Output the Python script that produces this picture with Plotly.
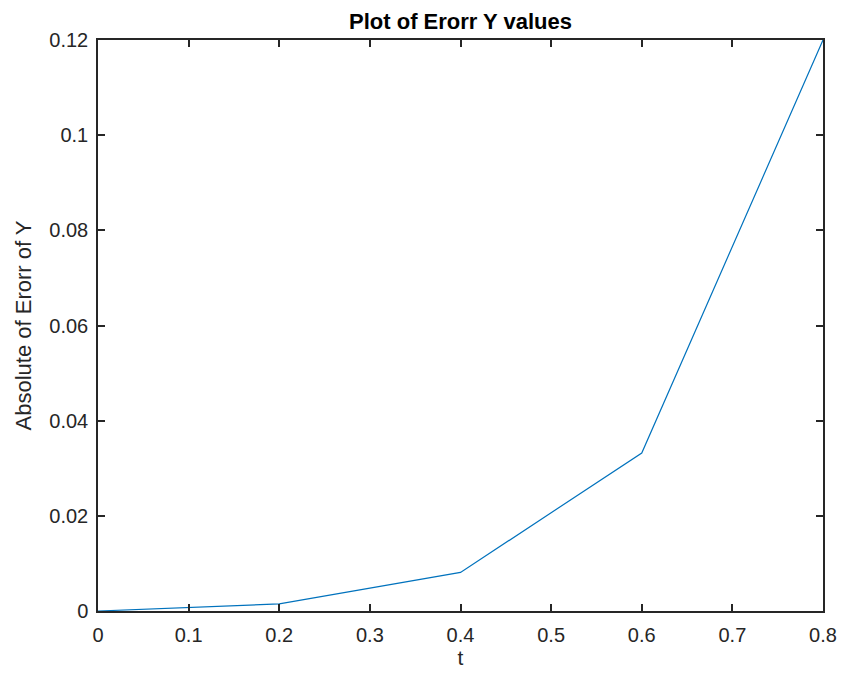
import plotly.graph_objects as go

# Time samples and absolute error in Y
t = [0.0, 0.2, 0.4, 0.6, 0.8]
abs_err_y = [0.0, 0.0015, 0.0081, 0.0332, 0.1200]

x_ticks = [0, 0.1, 0.2, 0.3, 0.4, 0.5, 0.6, 0.7, 0.8]
y_ticks = [0, 0.02, 0.04, 0.06, 0.08, 0.1, 0.12]

FONT = "Arial, Liberation Sans, sans-serif"

fig = go.Figure()
fig.add_trace(go.Scatter(
    x=t, y=abs_err_y, mode="lines",
    line=dict(color="#0072BD", width=1.2),
    showlegend=False, hoverinfo="x+y",
))

axis_common = dict(
    showline=True, linecolor="#262626", linewidth=1.5, mirror="ticks",
    ticks="inside", ticklen=7, tickwidth=1.5, tickcolor="#262626",
    showgrid=False, zeroline=False, automargin=False,
    tickfont=dict(family=FONT, size=20, color="#262626"),
)

fig.update_layout(
    width=841, height=678,
    margin=dict(l=98, r=18, t=40, b=67),
    paper_bgcolor="white", plot_bgcolor="white",
    title=dict(
        text="<b>Plot of Erorr Y values</b>",
        x=0.5, xanchor="center", xref="paper",
        y=1, yref="paper", yanchor="bottom", pad=dict(b=11),
        font=dict(family=FONT, size=22, color="black"),
        automargin=False,
    ),
    xaxis=dict(
        range=[0, 0.8], tickvals=x_ticks, ticktext=[f"{v:g}" for v in x_ticks],
        ticklabelstandoff=5,
        title=dict(text="t", font=dict(family=FONT, size=21, color="#262626"), standoff=6),
        **axis_common,
    ),
    yaxis=dict(
        range=[0, 0.12], tickvals=y_ticks, ticktext=[f"{v:g}" for v in y_ticks],
        ticklabelstandoff=4,
        title=dict(text="Absolute of Erorr of Y", font=dict(family=FONT, size=22, color="#262626"), standoff=12),
        **axis_common,
    ),
)

fig.write_html("out.html")
